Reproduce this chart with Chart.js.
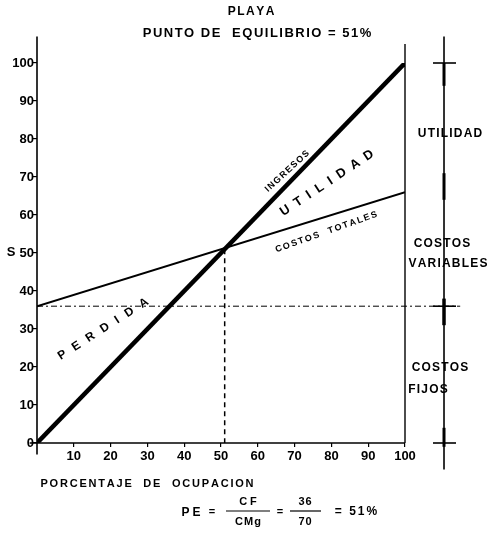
<!DOCTYPE html>
<html>
<head>
<meta charset="utf-8">
<script src="https://cdn.jsdelivr.net/npm/chart.js@4/dist/chart.umd.min.js"></script>
<style>
  html, body { margin: 0; padding: 0; background: #fff; }
  #wrap { width: 498px; height: 538px; }
</style>
</head>
<body>
<div id="wrap"><canvas id="chart" width="498" height="538"></canvas></div>
<script>
// break-even data (porcentaje de ocupacion vs. $)
const ocupacion = [0, 100];
const ingresos = [0, 100];
const costosTotales = [36, 66];
const costosFijos = 36;
const equilibrio = 51;
const yTicks = [0, 10, 20, 30, 40, 50, 60, 70, 80, 90, 100];
const xTicks = [10, 20, 30, 40, 50, 60, 70, 80, 90, 100];

const FONT = "'Liberation Sans', Arial, sans-serif";
const ink = "#000";

function spaced(ctx, text, x, y, angle, size, gap) {
  ctx.save();
  ctx.translate(x, y);
  ctx.rotate(angle);
  ctx.font = `bold ${size}px ${FONT}`;
  ctx.fillStyle = ink;
  ctx.textBaseline = "middle";
  ctx.textAlign = "left";
  const chars = [...text];
  const widths = chars.map((c) => ctx.measureText(c).width);
  const total = widths.reduce((a, b) => a + b, 0) + gap * (chars.length - 1);
  let cx = -total / 2;
  chars.forEach((c, i) => {
    ctx.fillText(c, cx, 0);
    cx += widths[i] + gap;
  });
  ctx.restore();
}

function line(ctx, x1, y1, x2, y2, w) {
  ctx.beginPath();
  ctx.lineWidth = w;
  ctx.moveTo(x1, y1);
  ctx.lineTo(x2, y2);
  ctx.stroke();
}

const decorations = {
  id: "decorations",
  afterDatasetsDraw(chart) {
    const { ctx } = chart;
    const x = chart.scales.x;
    const y = chart.scales.y;
    ctx.save();
    ctx.strokeStyle = ink;
    ctx.lineCap = "butt";

    // axes, a bit longer than the plot
    line(ctx, x.getPixelForValue(0), y.getPixelForValue(-3), x.getPixelForValue(0), y.getPixelForValue(107), 1.6);
    line(ctx, x.getPixelForValue(-2), y.getPixelForValue(0), x.getPixelForValue(100), y.getPixelForValue(0), 1.6);
    line(ctx, x.getPixelForValue(100), y.getPixelForValue(0), x.getPixelForValue(100), y.getPixelForValue(105), 1.4);

    // fixed cost level, carried across to the right bracket
    ctx.setLineDash([6, 3, 2, 3]);
    line(ctx, x.getPixelForValue(0), y.getPixelForValue(costosFijos), x.getPixelForValue(115), y.getPixelForValue(costosFijos), 1);
    ctx.setLineDash([]);

    // right bracket: utilidad / costos variables / costos fijos
    const bx = x.getPixelForValue(110.6);
    line(ctx, bx, y.getPixelForValue(107), bx, y.getPixelForValue(-7), 1.6);
    [100, costosFijos, 0].forEach((v) => {
      line(ctx, bx - 11, y.getPixelForValue(v), bx + 12, y.getPixelForValue(v), 1.6);
    });
    line(ctx, bx, y.getPixelForValue(100), bx, y.getPixelForValue(94), 3);
    line(ctx, bx, y.getPixelForValue(71), bx, y.getPixelForValue(64), 3);
    line(ctx, bx, y.getPixelForValue(costosFijos + 2), bx, y.getPixelForValue(costosFijos - 5), 3.5);
    line(ctx, bx, y.getPixelForValue(4), bx, y.getPixelForValue(-1), 3);

    // labels inside the plot
    const ang = (x1, y1, x2, y2) =>
      Math.atan2(y.getPixelForValue(y2) - y.getPixelForValue(y1), x.getPixelForValue(x2) - x.getPixelForValue(x1));
    spaced(ctx, "INGRESOS", x.getPixelForValue(68), y.getPixelForValue(71.5), ang(0, 0, 100, 100) + 0.06, 9, 1.3);
    spaced(ctx, "UTILIDAD", x.getPixelForValue(78.8), y.getPixelForValue(68.4), -0.585, 13, 7);
    spaced(ctx, "COSTOS  TOTALES", x.getPixelForValue(78.6), y.getPixelForValue(55.5), ang(0, 36, 100, 66) - 0.04, 9, 1.6);
    spaced(ctx, "PERDIDA", x.getPixelForValue(18), y.getPixelForValue(30), -0.57, 12, 8.5);

    // titles
    spaced(ctx, "PLAYA", 251, 12, 0, 12, 1.5);
    spaced(ctx, "PUNTO DE  EQUILIBRIO = 51%", 257, 33, 0, 13, 1.5);
    spaced(ctx, "S", 11, 252, 0, 13, 0);
    spaced(ctx, "PORCENTAJE  DE  OCUPACION", 147, 484, 0, 11, 1.8);

    // right-hand captions
    const cap = (t, cx, cy) => spaced(ctx, t, cx, cy, 0, 12, 1.2);
    cap("UTILIDAD", 450, 134);
    cap("COSTOS", 442, 244);
    cap("VARIABLES", 448, 264);
    cap("COSTOS", 440, 368);
    cap("FIJOS", 428, 390);

    // PE = CF / CMg = 36 / 70 = 51%
    spaced(ctx, "PE", 191, 513, 0, 12, 3);
    spaced(ctx, "=", 212, 512, 0, 11, 0);
    spaced(ctx, "CF", 248, 502, 0, 11, 3);
    line(ctx, 226, 511, 270, 511, 1.2);
    spaced(ctx, "CMg", 248, 522, 0, 11, 1);
    spaced(ctx, "=", 280, 512, 0, 11, 0);
    spaced(ctx, "36", 305, 502, 0, 11, 1);
    line(ctx, 290, 511, 321, 511, 1.2);
    spaced(ctx, "70", 305, 522, 0, 11, 1);
    spaced(ctx, "= 51%", 356, 512, 0, 12, 2);

    ctx.restore();
  },
};

new Chart(document.getElementById("chart"), {
  type: "line",
  data: {
    datasets: [
      {
        label: "Ingresos",
        data: ocupacion.map((v, i) => ({ x: v, y: ingresos[i] })),
        borderColor: ink,
        borderWidth: 4.5,
        pointRadius: 0,
      },
      {
        label: "Costos totales",
        data: ocupacion.map((v, i) => ({ x: v, y: costosTotales[i] })),
        borderColor: ink,
        borderWidth: 2,
        pointRadius: 0,
      },
      {
        label: "Punto de equilibrio",
        data: [
          { x: equilibrio, y: equilibrio },
          { x: equilibrio, y: 0 },
        ],
        borderColor: ink,
        borderWidth: 1.5,
        borderDash: [5, 4],
        pointRadius: 0,
      },
    ],
  },
  options: {
    responsive: false,
    animation: false,
    events: [],
    layout: { padding: { top: 63, right: 93, bottom: 0, left: 0 } },
    plugins: { legend: { display: false }, tooltip: { enabled: false } },
    scales: {
      x: {
        type: "linear",
        min: 0,
        max: 100,
        afterFit: (s) => { s.height = 95; },
        afterBuildTicks: (s) => { s.ticks = xTicks.map((v) => ({ value: v })); },
        border: { display: false },
        grid: { drawOnChartArea: false, tickLength: 4, color: ink, lineWidth: 1.2 },
        ticks: { color: ink, padding: 2, maxRotation: 0, font: { family: FONT, size: 13, weight: "bold" } },
      },
      y: {
        type: "linear",
        min: 0,
        max: 100,
        afterFit: (s) => { s.width = 37; },
        afterBuildTicks: (s) => { s.ticks = yTicks.map((v) => ({ value: v })); },
        border: { display: false },
        grid: { drawOnChartArea: false, tickLength: 5, color: ink, lineWidth: 1.2 },
        ticks: { color: ink, padding: -2, font: { family: FONT, size: 13, weight: "bold" } },
      },
    },
  },
  plugins: [decorations],
});
</script>
</body>
</html>
